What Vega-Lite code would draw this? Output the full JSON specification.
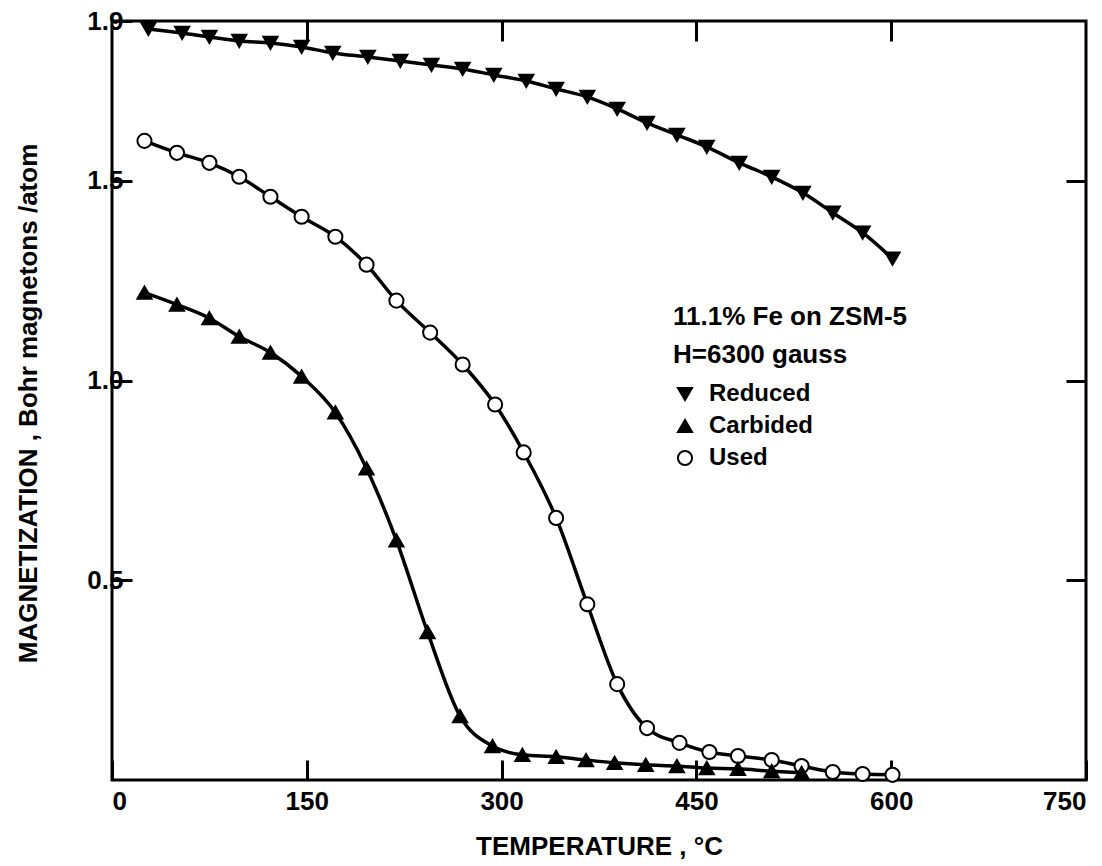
{
  "$schema": "https://vega.github.io/schema/vega-lite/v6.json",
  "width": 974,
  "height": 759,
  "autosize": {"type": "none"},
  "padding": {"left": 112, "top": 21, "right": 16, "bottom": 86},
  "background": "white",
  "config": {
    "view": {"stroke": "black", "strokeWidth": 3},
    "font": "Liberation Sans",
    "axis": {
      "domain": false,
      "grid": false,
      "tickColor": "black",
      "tickWidth": 3,
      "tickSize": -20,
      "labelFont": "Liberation Sans",
      "labelFontSize": 26,
      "labelFontWeight": "bold",
      "labelColor": "black",
      "titleFont": "Liberation Sans",
      "titleFontSize": 26,
      "titleFontWeight": "bold",
      "titleColor": "black"
    },
    "legend": {
      "titleFont": "Liberation Sans",
      "titleFontSize": 26,
      "titleFontWeight": "bold",
      "titleColor": "black",
      "titleLineHeight": 38,
      "titlePadding": 14,
      "titleLimit": 500,
      "labelFont": "Liberation Sans",
      "labelFontSize": 24,
      "labelFontWeight": "bold",
      "labelColor": "black",
      "labelLimit": 300,
      "rowPadding": 8,
      "symbolStrokeColor": "black",
      "symbolStrokeWidth": 2,
      "symbolOpacity": 1,
      "labelOffset": 12,
      "padding": 0
    }
  },
  "datasets": {
    "mag": [
      {"series": "Reduced", "T": 28, "M": 1.88},
      {"series": "Reduced", "T": 54, "M": 1.87},
      {"series": "Reduced", "T": 75, "M": 1.86},
      {"series": "Reduced", "T": 98, "M": 1.85},
      {"series": "Reduced", "T": 122, "M": 1.845},
      {"series": "Reduced", "T": 146, "M": 1.835},
      {"series": "Reduced", "T": 170, "M": 1.82},
      {"series": "Reduced", "T": 197, "M": 1.81},
      {"series": "Reduced", "T": 222, "M": 1.8},
      {"series": "Reduced", "T": 246, "M": 1.79},
      {"series": "Reduced", "T": 270, "M": 1.78},
      {"series": "Reduced", "T": 294, "M": 1.765},
      {"series": "Reduced", "T": 319, "M": 1.75},
      {"series": "Reduced", "T": 342, "M": 1.73},
      {"series": "Reduced", "T": 366, "M": 1.71},
      {"series": "Reduced", "T": 389, "M": 1.68},
      {"series": "Reduced", "T": 412, "M": 1.645},
      {"series": "Reduced", "T": 435, "M": 1.615},
      {"series": "Reduced", "T": 458, "M": 1.585},
      {"series": "Reduced", "T": 483, "M": 1.545},
      {"series": "Reduced", "T": 508, "M": 1.51},
      {"series": "Reduced", "T": 532, "M": 1.47},
      {"series": "Reduced", "T": 555, "M": 1.42},
      {"series": "Reduced", "T": 578, "M": 1.37},
      {"series": "Reduced", "T": 601, "M": 1.305},
      {"series": "Used", "T": 25, "M": 1.6},
      {"series": "Used", "T": 50, "M": 1.57},
      {"series": "Used", "T": 75, "M": 1.545},
      {"series": "Used", "T": 98, "M": 1.51},
      {"series": "Used", "T": 122, "M": 1.46},
      {"series": "Used", "T": 146, "M": 1.41},
      {"series": "Used", "T": 172, "M": 1.36},
      {"series": "Used", "T": 196, "M": 1.29},
      {"series": "Used", "T": 219, "M": 1.2},
      {"series": "Used", "T": 245, "M": 1.12},
      {"series": "Used", "T": 270, "M": 1.04},
      {"series": "Used", "T": 295, "M": 0.94},
      {"series": "Used", "T": 317, "M": 0.82},
      {"series": "Used", "T": 342, "M": 0.656},
      {"series": "Used", "T": 366, "M": 0.44},
      {"series": "Used", "T": 389, "M": 0.24},
      {"series": "Used", "T": 412, "M": 0.13},
      {"series": "Used", "T": 437, "M": 0.093},
      {"series": "Used", "T": 460, "M": 0.07},
      {"series": "Used", "T": 482, "M": 0.06},
      {"series": "Used", "T": 508, "M": 0.05},
      {"series": "Used", "T": 531, "M": 0.035},
      {"series": "Used", "T": 555, "M": 0.02},
      {"series": "Used", "T": 578, "M": 0.015},
      {"series": "Used", "T": 601, "M": 0.013},
      {"series": "Carbided", "T": 25, "M": 1.22},
      {"series": "Carbided", "T": 50, "M": 1.19},
      {"series": "Carbided", "T": 75, "M": 1.156},
      {"series": "Carbided", "T": 98, "M": 1.11},
      {"series": "Carbided", "T": 122, "M": 1.07},
      {"series": "Carbided", "T": 146, "M": 1.01},
      {"series": "Carbided", "T": 172, "M": 0.92},
      {"series": "Carbided", "T": 196, "M": 0.78},
      {"series": "Carbided", "T": 219, "M": 0.6},
      {"series": "Carbided", "T": 243, "M": 0.37},
      {"series": "Carbided", "T": 268, "M": 0.16},
      {"series": "Carbided", "T": 293, "M": 0.085},
      {"series": "Carbided", "T": 316, "M": 0.063},
      {"series": "Carbided", "T": 342, "M": 0.058},
      {"series": "Carbided", "T": 365, "M": 0.05},
      {"series": "Carbided", "T": 387, "M": 0.043},
      {"series": "Carbided", "T": 411, "M": 0.038},
      {"series": "Carbided", "T": 435, "M": 0.035},
      {"series": "Carbided", "T": 458, "M": 0.03},
      {"series": "Carbided", "T": 482, "M": 0.028},
      {"series": "Carbided", "T": 508, "M": 0.022},
      {"series": "Carbided", "T": 531, "M": 0.018}
    ]
  },
  "data": {"name": "mag"},
  "layer": [
    {
      "mark": {"type": "line", "interpolate": "monotone", "color": "black", "strokeWidth": 3.5},
      "encoding": {
        "x": {
          "field": "T", "type": "quantitative",
          "scale": {"domain": [0, 750], "nice": false, "zero": false},
          "axis": {
            "orient": "bottom",
            "values": [0, 150, 300, 450, 600, 750],
            "labelPadding": 28,
            "title": "TEMPERATURE , °C",
            "titleX": 487,
            "titleY": 66,
            "titleAlign": "center",
            "titleBaseline": "middle"
          }
        },
        "y": {
          "field": "M", "type": "quantitative",
          "scale": {"domain": [0, 1.9], "nice": false, "zero": false},
          "axis": {
            "orient": "left",
            "values": [0.5, 1.0, 1.5, 1.9],
            "format": ".1f",
            "labelPadding": 9,
            "title": "MAGNETIZATION , Bohr magnetons /atom",
            "titleX": -84,
            "titleY": 382,
            "titleAngle": -90,
            "titleAlign": "center",
            "titleBaseline": "middle"
          }
        },
        "detail": {"field": "series"}
      }
    },
    {
      "mark": {"type": "point", "filled": true, "stroke": "black", "strokeWidth": 2, "opacity": 1},
      "encoding": {
        "x": {
          "field": "T", "type": "quantitative",
          "scale": {"domain": [0, 750], "nice": false, "zero": false},
          "axis": {"orient": "top", "values": [150, 300, 450, 600], "labels": false, "title": null}
        },
        "y": {
          "field": "M", "type": "quantitative",
          "scale": {"domain": [0, 1.9], "nice": false, "zero": false},
          "axis": {"orient": "right", "values": [0.5, 1.0, 1.5], "labels": false, "title": null}
        },
        "shape": {
          "field": "series", "type": "nominal",
          "scale": {"domain": ["Reduced", "Carbided", "Used"], "range": ["triangle-down", "triangle-up", "circle"]},
          "legend": {
            "orient": "none", "legendX": 561, "legendY": 283,
            "title": ["11.1% Fe on ZSM-5", "H=6300 gauss"],
            "symbolStrokeColor": "black",
            "symbolStrokeWidth": 2,
            "encode": {"symbols": {"update": {
              "stroke": {"value": "black"},
              "strokeWidth": {"value": 2},
              "size": {"signal": "datum.value === 'Used' ? 55 : 200"}
            }}}
          }
        },
        "fill": {
          "field": "series", "type": "nominal",
          "scale": {"domain": ["Reduced", "Carbided", "Used"], "range": ["black", "black", "white"]},
          "legend": {
            "orient": "none", "legendX": 561, "legendY": 283,
            "title": ["11.1% Fe on ZSM-5", "H=6300 gauss"],
            "symbolStrokeColor": "black",
            "symbolStrokeWidth": 2,
            "encode": {"symbols": {"update": {
              "stroke": {"value": "black"},
              "strokeWidth": {"value": 2},
              "size": {"signal": "datum.value === 'Used' ? 55 : 200"}
            }}}
          }
        },
        "size": {
          "field": "series", "type": "nominal",
          "scale": {"domain": ["Reduced", "Carbided", "Used"], "range": [200, 200, 60]},
          "legend": {
            "orient": "none", "legendX": 561, "legendY": 283,
            "title": ["11.1% Fe on ZSM-5", "H=6300 gauss"],
            "symbolStrokeColor": "black",
            "symbolStrokeWidth": 2,
            "encode": {"symbols": {"update": {
              "stroke": {"value": "black"},
              "strokeWidth": {"value": 2},
              "size": {"signal": "datum.value === 'Used' ? 55 : 200"}
            }}}
          }
        }
      }
    }
  ],
  "resolve": {"axis": {"x": "independent", "y": "independent"}}
}
